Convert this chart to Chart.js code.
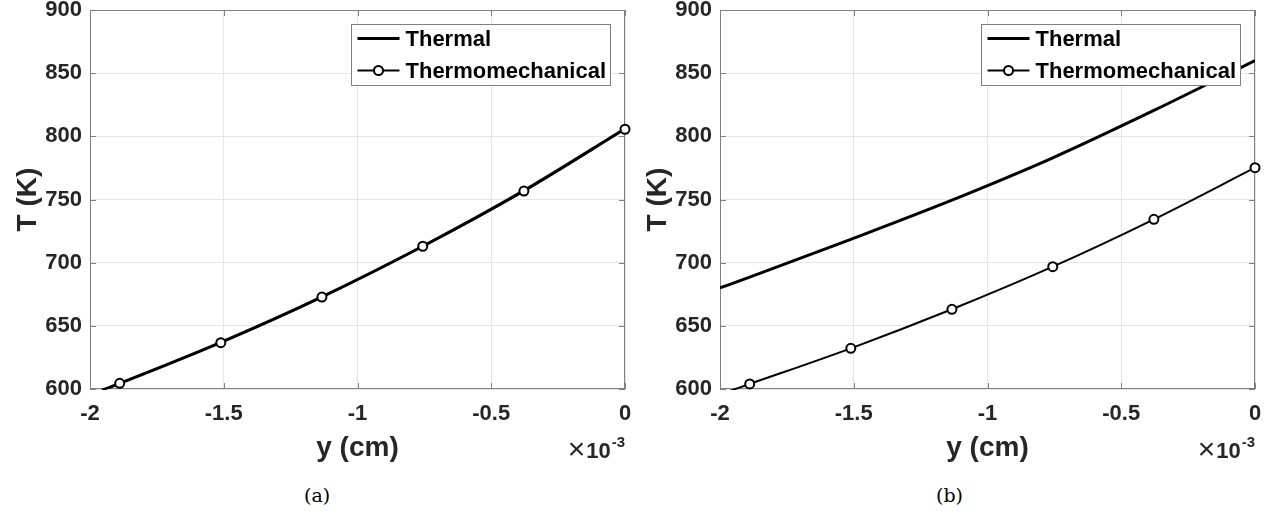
<!DOCTYPE html>
<html>
<head>
<meta charset="utf-8">
<script src="https://cdn.jsdelivr.net/npm/chart.js@4/dist/chart.umd.min.js"></script>
<style>
  body { margin: 0; background: #fff; width: 1270px; height: 523px; position: relative; overflow: hidden; }
  canvas { position: absolute; top: 0; }
  #chartA { left: 0; }
  #chartB { left: 630px; }
  .cap { position: absolute; top: 484px; font-family: "DejaVu Serif", serif; font-size: 19px; color: #000; }
</style>
</head>
<body>
<canvas id="chartA" width="640" height="470"></canvas>
<canvas id="chartB" width="640" height="470"></canvas>
<div class="cap" style="left:304px">(a)</div>
<div class="cap" style="left:936px">(b)</div>
<script>
// y positions (units of 1e-3 cm)
const yPos = [-2, -1.889, -1.511, -1.133, -0.756, -0.378, 0];
// temperatures (K)
const thermalA = [595.5, 604.5, 637, 673, 713, 757, 806];
const mechA = [595, 604.5, 636.7, 672.8, 713, 756.7, 805.6];
const thermalB = [680, 688.5, 718.5, 749.5, 783, 820.5, 860];
const mechB = [595.8, 604, 632.2, 663.1, 696.8, 734.3, 775.2];
const markerRadius = [0, 4.5, 4.5, 4.5, 4.5, 4.5, 4.5];

const xTicks = [-2, -1.5, -1, -0.5, 0];
const yTicks = [600, 650, 700, 750, 800, 850, 900];
const seriesNames = ['Thermal', 'Thermomechanical'];

const FONT = '"Liberation Sans", Arial, sans-serif';
const AXIS_GRAY = '#808080';
const TEXT = '#262626';

function pts(vals) {
    return yPos.map((v, i) => ({ x: v, y: vals[i] }));
}

// frame box + inward ticks on all four sides
const framePlugin = {
    id: 'frame',
    beforeDatasetsDraw(chart) {
        const { ctx, chartArea: a, scales: { x, y } } = chart;
        ctx.save();
        ctx.strokeStyle = AXIS_GRAY;
        ctx.lineWidth = 1;
        ctx.strokeRect(Math.round(a.left) + 0.5, Math.round(a.top) + 0.5,
            Math.round(a.width) - 1, Math.round(a.height) - 1);
        ctx.beginPath();
        xTicks.forEach(v => {
            const px = Math.round(x.getPixelForValue(v)) + 0.5;
            ctx.moveTo(px, a.bottom); ctx.lineTo(px, a.bottom - 6);
            ctx.moveTo(px, a.top); ctx.lineTo(px, a.top + 6);
        });
        yTicks.forEach(v => {
            const py = Math.round(y.getPixelForValue(v)) + 0.5;
            ctx.moveTo(a.left, py); ctx.lineTo(a.left + 6, py);
            ctx.moveTo(a.right, py); ctx.lineTo(a.right - 6, py);
        });
        ctx.stroke();
        ctx.restore();
    },
    afterDraw(chart) {
        // x10^-3 exponent label under the right end of the x axis
        const { ctx, chartArea: a } = chart;
        ctx.save();
        ctx.fillStyle = TEXT;
        ctx.textBaseline = 'alphabetic';
        ctx.textAlign = 'right';
        ctx.font = 'bold 15px ' + FONT;
        const supW = ctx.measureText('-3').width;
        ctx.fillText('-3', a.right, 447);
        ctx.font = 'bold 22px ' + FONT;
        const tenW = ctx.measureText('10').width;
        ctx.fillText('10', a.right - supW - 1, 458);
        ctx.font = '30px ' + FONT;
        ctx.fillText('\u00d7', a.right - supW - tenW - 2, 459);
        ctx.restore();
    }
};

// boxed legend in the upper right of the plot
const boxLegend = {
    id: 'boxLegend',
    afterDatasetsDraw(chart) {
        const { ctx, chartArea: a } = chart;
        const w = 259, h = 61;
        const left = Math.round(a.right - 15 - w) + 0.5;
        const top = Math.round(a.top + 14) + 0.5;
        ctx.save();
        ctx.fillStyle = '#fff';
        ctx.strokeStyle = AXIS_GRAY;
        ctx.lineWidth = 1;
        ctx.fillRect(left, top, w, h);
        ctx.strokeRect(left, top, w, h);
        chart.data.datasets.forEach((ds, i) => {
            const cy = top + 14 + i * 32;
            ctx.strokeStyle = ds.borderColor;
            ctx.lineWidth = ds.borderWidth;
            ctx.beginPath();
            ctx.moveTo(left + 6, cy);
            ctx.lineTo(left + 48, cy);
            ctx.stroke();
            if (Array.isArray(ds.pointRadius)) {
                ctx.lineWidth = ds.pointBorderWidth;
                ctx.fillStyle = '#fff';
                ctx.beginPath();
                ctx.arc(left + 27, cy, 4.5, 0, Math.PI * 2);
                ctx.fill();
                ctx.stroke();
            }
            ctx.fillStyle = '#000';
            ctx.font = 'bold 22px ' + FONT;
            ctx.textBaseline = 'middle';
            ctx.fillText(ds.label, left + 54, cy + 1);
        });
        ctx.restore();
    }
};

function makeChart(id, thermal, mech) {
    return new Chart(document.getElementById(id), {
        type: 'line',
        data: {
            datasets: [{
                label: seriesNames[0],
                data: pts(thermal),
                borderColor: '#000',
                borderWidth: 3,
                pointRadius: 0,
                cubicInterpolationMode: 'monotone',
                order: 2
            }, {
                label: seriesNames[1],
                data: pts(mech),
                borderColor: '#000',
                borderWidth: 2,
                pointRadius: markerRadius,
                pointBorderWidth: 2,
                pointBorderColor: '#000',
                pointBackgroundColor: '#fff',
                cubicInterpolationMode: 'monotone',
                clip: { left: 0, top: 0, right: 8, bottom: 1 },
                order: 1
            }]
        },
        options: {
            responsive: false,
            animation: false,
            layout: { padding: { top: 10, right: 15, left: 0, bottom: 0 } },
            plugins: {
                legend: { display: false },
                tooltip: { enabled: false }
            },
            scales: {
                x: {
                    type: 'linear',
                    min: -2,
                    max: 0,
                    afterFit: s => { s.height = 81; s.paddingLeft = 0; s.paddingRight = 0; },
                    afterBuildTicks: s => { s.ticks = xTicks.map(v => ({ value: v })); },
                    grid: { color: '#e6e6e6', drawTicks: false },
                    border: { display: false },
                    ticks: {
                        padding: 12,
                        color: TEXT,
                        font: { family: FONT, size: 22, weight: 'bold' },
                        callback: v => String(v)
                    },
                    title: {
                        display: true,
                        text: 'y (cm)',
                        color: TEXT,
                        font: { family: FONT, size: 28, weight: 'bold' },
                        padding: { top: 0, bottom: 5 }
                    }
                },
                y: {
                    min: 600,
                    max: 900,
                    afterFit: s => { s.width = 90; s.paddingTop = 0; s.paddingBottom = 0; },
                    afterBuildTicks: s => { s.ticks = yTicks.map(v => ({ value: v })); },
                    grid: { color: '#e6e6e6', drawTicks: false },
                    border: { display: false },
                    ticks: {
                        padding: 8,
                        color: TEXT,
                        font: { family: FONT, size: 22, weight: 'bold' }
                    },
                    title: {
                        display: true,
                        text: 'T (K)',
                        color: TEXT,
                        font: { family: FONT, size: 28, weight: 'bold' },
                        padding: { top: 11, bottom: 0 }
                    }
                }
            }
        },
        plugins: [framePlugin, boxLegend]
    });
}

makeChart('chartA', thermalA, mechA);
makeChart('chartB', thermalB, mechB);
</script>
</body>
</html>
